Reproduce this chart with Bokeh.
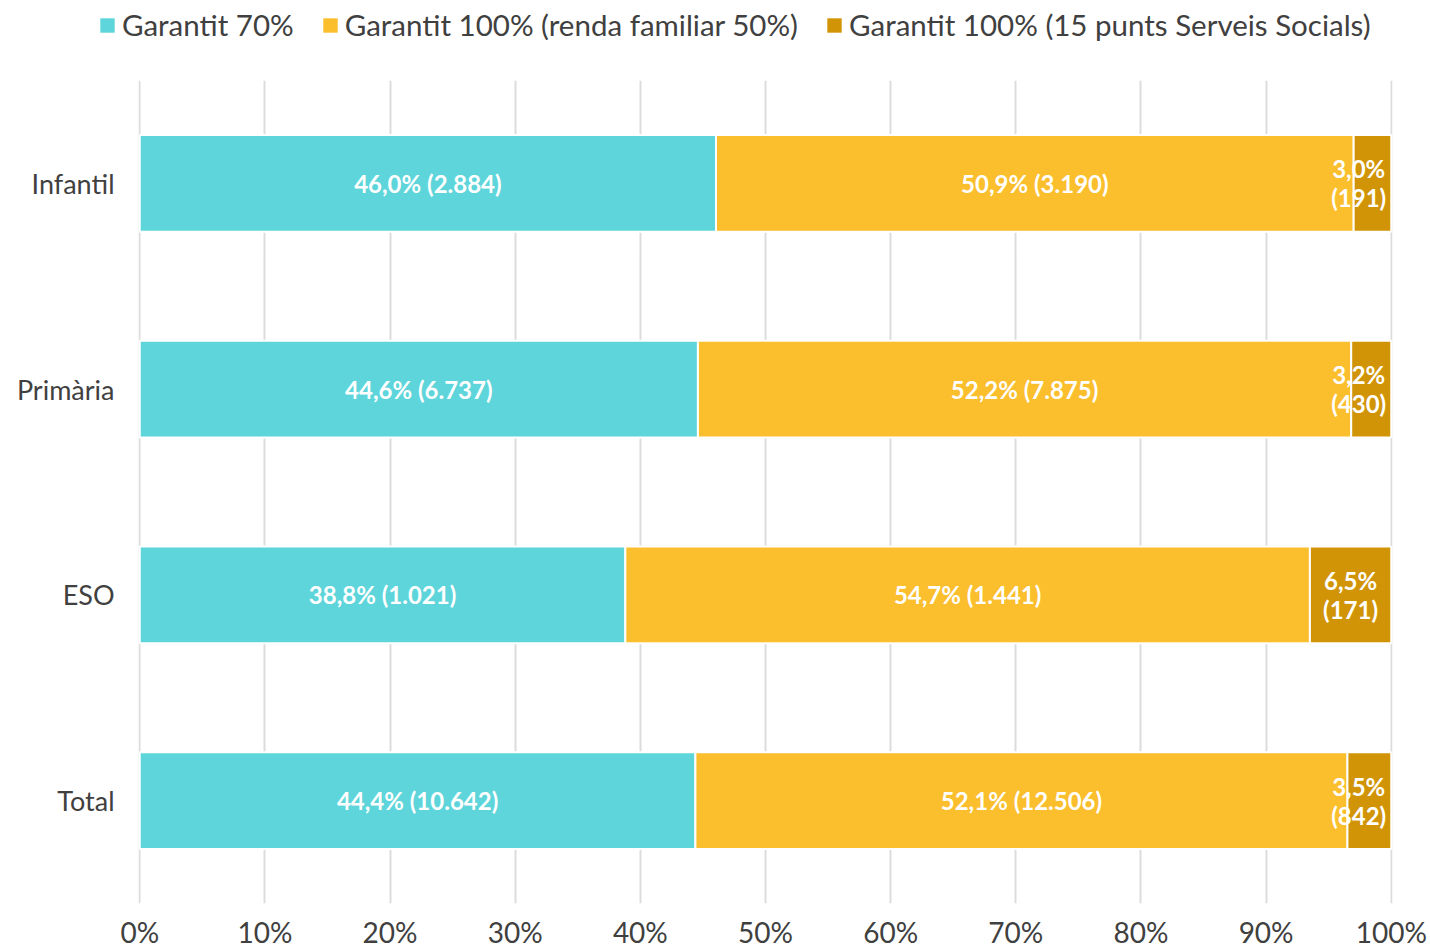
from bokeh.plotting import figure
from bokeh.layouts import column
from bokeh.models import Legend, LegendItem, FixedTicker, ColumnDataSource, FactorRange
from bokeh.core.properties import value
from bokeh.embed import file_html
from bokeh.resources import INLINE

categories = ["Infantil", "Primària", "ESO", "Total"]
series_names = ["Garantit 70%", "Garantit 100% (renda familiar 50%)", "Garantit 100% (15 punts Serveis Socials)"]
pct_70 = [46.0, 44.6, 38.8, 44.4]
pct_100_renda = [50.9, 52.2, 54.7, 52.1]
pct_100_ss = [3.0, 3.2, 6.5, 3.5]
n_70 = [2884, 6737, 1021, 10642]
n_100_renda = [3190, 7875, 1441, 12506]
n_100_ss = [191, 430, 171, 842]
x_ticks = [0, 10, 20, 30, 40, 50, 60, 70, 80, 90, 100]
x_tick_labels = ["0%", "10%", "20%", "30%", "40%", "50%", "60%", "70%", "80%", "90%", "100%"]

colors = ["#5DD5DA", "#FBBE2C", "#D19406"]
FONT = "Lato"
TXT = "#404040"


def fmt_pct(v):
    return f"{v:.1f}".replace(".", ",") + "%"


def fmt_n(n):
    return f"{n:,}".replace(",", ".")


# normalise to 100 %
totals = [a + b + c for a, b, c in zip(pct_70, pct_100_renda, pct_100_ss)]
s1 = [a / t * 100 for a, t in zip(pct_70, totals)]
s2 = [b / t * 100 for b, t in zip(pct_100_renda, totals)]
s3 = [c / t * 100 for c, t in zip(pct_100_ss, totals)]

W = 1430

# ---------------- legend strip ----------------
lg = figure(width=W, height=80, output_backend="svg", toolbar_location=None,
            x_axis_type=None, y_axis_type=None, x_range=(0, 1), y_range=(0, 1),
            min_border_left=0, min_border_right=0, min_border_top=0, min_border_bottom=0)
lg.frame_align = False
lg.outline_line_color = None
lg.grid.visible = False
dummy = []
for col in colors:
    # zero-width swatch carriers for the legend entries
    dummy.append(lg.hbar(y=[0.5], left=[0], right=[0], height=0.5, fill_color=col, line_color=None))
legend = Legend(
    items=[LegendItem(label=n, renderers=[r]) for n, r in zip(series_names, dummy)],
    orientation="horizontal", location=(98, 38),
    label_text_font=FONT, label_text_font_size="29.5px", label_text_color=TXT,
    glyph_width=18, glyph_height=18, label_standoff=6, spacing=27,
    padding=0, margin=0, border_line_color=None, background_fill_alpha=0,
)
lg.add_layout(legend, "center")

# ---------------- main chart ----------------
p = figure(
    width=W, height=871,
    y_range=FactorRange(factors=list(reversed(categories)), range_padding=0),
    x_range=(-0.1, 100.1),
    output_backend="svg", toolbar_location=None,
    min_border_left=138, min_border_right=38, min_border_top=0, min_border_bottom=40,
)
p.outline_line_color = None

src = ColumnDataSource(dict(
    cat=categories,
    l1=[0] * 4,
    r1=s1,
    r2=[a + b for a, b in zip(s1, s2)],
    r3=[a + b + c for a, b, c in zip(s1, s2, s3)],
))

bar_h = 0.47
p.hbar(y="cat", left="l1", right="r1", height=bar_h, source=src,
       fill_color=colors[0], line_color="white", line_width=2)
p.hbar(y="cat", left="r1", right="r2", height=bar_h, source=src,
       fill_color=colors[1], line_color="white", line_width=2)
p.hbar(y="cat", left="r2", right="r3", height=bar_h, source=src,
       fill_color=colors[2], line_color="white", line_width=2)

# labels
lx, ly, lt = [], [], []
for i, c in enumerate(categories):
    lx.append(s1[i] / 2)
    ly.append(c)
    lt.append(f"{fmt_pct(pct_70[i])} ({fmt_n(n_70[i])})")
    lx.append(s1[i] + s2[i] / 2)
    ly.append(c)
    lt.append(f"{fmt_pct(pct_100_renda[i])} ({fmt_n(n_100_renda[i])})")
    lx.append(min(s1[i] + s2[i] + s3[i] / 2, 97.4))
    ly.append(c)
    lt.append(f"{fmt_pct(pct_100_ss[i])}\n({fmt_n(n_100_ss[i])})")

p.text(x=lx, y=ly, text=lt, text_align="center", text_baseline="middle",
       text_color="white", text_font=value(FONT), text_font_style="bold",
       text_font_size="24px", text_line_height=1.0)

# axes
p.xaxis.ticker = FixedTicker(ticks=x_ticks)
p.xaxis.major_label_overrides = {t: l for t, l in zip(x_ticks, x_tick_labels)}
for ax in (p.xaxis[0], p.yaxis[0]):
    ax.axis_line_color = None
    ax.major_tick_line_color = None
    ax.minor_tick_line_color = None
    ax.major_label_text_font = FONT
    ax.major_label_text_color = TXT
p.xaxis.major_label_text_font_size = "28px"
p.yaxis.major_label_text_font_size = "27px"
p.xaxis.major_label_standoff = 5
p.yaxis.major_label_standoff = 18

p.xgrid.grid_line_color = "#dcdcdc"
p.xgrid.grid_line_width = 2
p.ygrid.grid_line_color = None

open("out.html", "w").write(file_html(column(lg, p, spacing=0), INLINE))
